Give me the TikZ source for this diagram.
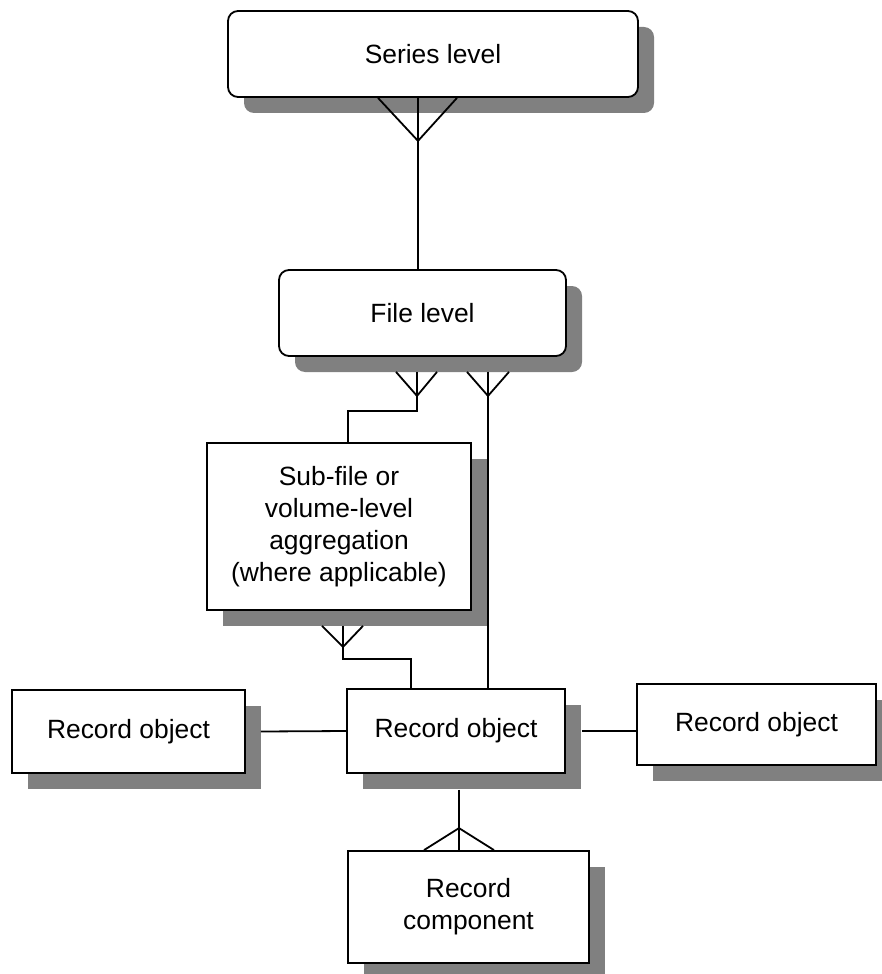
\documentclass[tikz,border=0pt]{standalone}
\usepackage{fontspec}
\setmainfont{Liberation Sans}
\usetikzlibrary{shadows,calc}
\tikzset{
boxshadow/.style={drop shadow={shadow xshift=8pt, shadow yshift=-8pt, fill=gray, opacity=1}},
levelbox/.style={draw, fill=white, line width=0.9pt, rounded corners=5pt, align=center, inner sep=0pt, boxshadow},
recbox/.style={draw, fill=white, line width=0.9pt, align=center, inner sep=0pt, boxshadow},
link/.style={line width=0.9pt}
}

\begin{document}
\begin{tikzpicture}[x=0.5pt, y=-0.5pt, font=\fontsize{13.2}{16}\selectfont]
\useasboundingbox (0,0) rectangle (882,974);
\node[levelbox, minimum width=205pt, minimum height=43pt] (series) at (433,54) {Series level};
\node[levelbox, minimum width=143.5pt, minimum height=43pt] (file) at (422.5,313) {File level};
\node[recbox, minimum width=132pt, minimum height=83.5pt] (sub) at (339,526.5) {Sub-file or\\volume-level\\aggregation\\(where applicable)};
\node[recbox, minimum width=109pt, minimum height=42pt] (rec) at (456,731) {Record object};
\node[recbox, minimum width=116.5pt, minimum height=41.5pt] (recL) at (128.5,731.5) {Record object};
\node[recbox, minimum width=119.5pt, minimum height=40.5pt] (recR) at (756.5,724.5) {Record object};
\node[recbox, minimum width=120.5pt, minimum height=56pt] (comp) at (468.5,907) {Record\\component};
% series to file
\draw[link] ($(series.south)+(-55,0)$) -- ($(series.south)+(-15,43)$) -- ($(series.south)+(24,0)$);
\draw[link] ($(series.south)+(-15,0)$) -- ($(file.north)+(-4.5,0)$);
% file to sub-file
\draw[link] ($(file.south)+(-26.5,15)$) -- ($(file.south)+(-5.5,39)$) -- ($(file.south)+(14.5,15)$);
\draw[link] ($(file.south)+(-5.5,15)$) |- ($(sub.north)+(9,-31)$) -- ($(sub.north)+(9,0)$);
% file to record object
\draw[link] ($(file.south)+(44.5,15)$) -- ($(file.south)+(65.5,39)$) -- ($(file.south)+(86.5,15)$);
\draw[link] ($(file.south)+(65.5,15)$) -- (rec.north -| {$(file.south)+(65.5,0)$});
% sub-file to record object
\draw[link] ($(sub.south)+(-17,15)$) -- ($(sub.south)+(4,36)$) -- ($(sub.south)+(24,15)$);
\draw[link] ($(sub.south)+(4,15)$) |- ($(rec.north)+(-45,-29)$) -- ($(rec.north)+(-45,0)$);
% record objects
\draw[link] ($(recL.east)+(15,0)$) -- (rec.west);
\draw[link] ($(rec.east)+(16,0)$) -- (recR.west |- rec.east);
% record object to component
\draw[link] ($(rec.south)+(3,16)$) -- ($(comp.north)+(-9.5,0)$);
\draw[link] ($(comp.north)+(-44.5,0)$) -- ($(comp.north)+(-9.5,-22)$) -- ($(comp.north)+(25.5,0)$);
\end{tikzpicture}
\end{document}
